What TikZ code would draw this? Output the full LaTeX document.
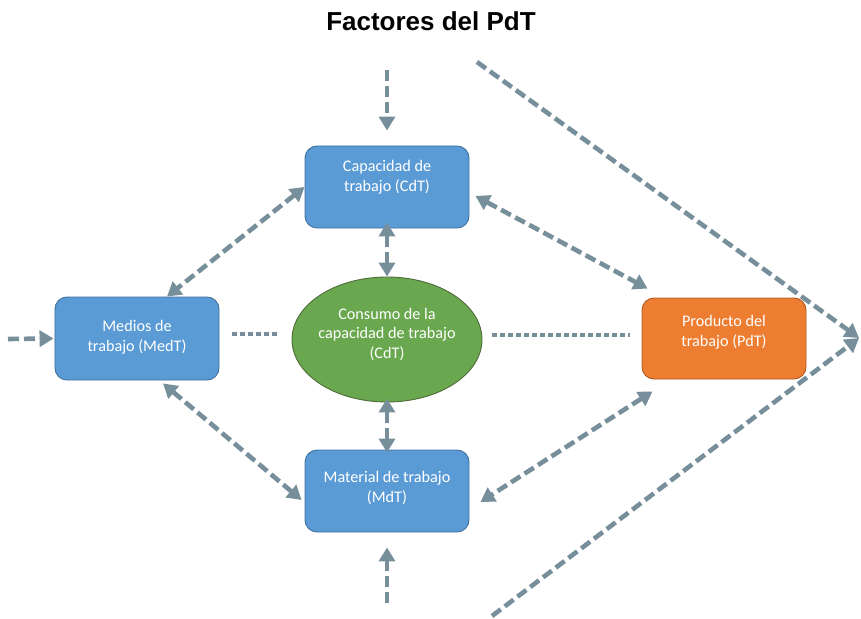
\documentclass[tikz,border=0pt]{standalone}
\usepackage{fontspec}
\setmainfont{Carlito}
\newfontfamily\titlefont{Liberation Sans}
\usetikzlibrary{arrows.meta,calc,shapes.geometric}
\definecolor{boxblue}{HTML}{5B9BD5}
\definecolor{boxblueline}{HTML}{41719C}
\definecolor{boxorange}{HTML}{ED7D31}
\definecolor{boxorangeline}{HTML}{AE5A21}
\definecolor{ellgreen}{HTML}{6AA84F}
\definecolor{ellline}{HTML}{4E6B3A}
\definecolor{arrowgray}{HTML}{778F9B}
\begin{document}
\begin{tikzpicture}[x=1bp,y=-1bp,
  bluebox/.style={draw=boxblueline, fill=boxblue, rounded corners=12bp, minimum width=164bp, minimum height=82bp, inner sep=0pt, line width=0.9bp},
  orangebox/.style={bluebox, draw=boxorangeline, fill=boxorange},
  lbl/.style={text=white, align=center, font=\fontsize{16.2bp}{19.5bp}\selectfont, inner sep=0pt},
  conn/.style={draw=arrowgray, line width=4.6bp, dash pattern=on 11bp off 5bp, -{Triangle[length=14bp,width=16bp]}},
  bidir/.style={conn, {Triangle[length=14bp,width=16bp]}-{Triangle[length=14bp,width=16bp]}},
  dotline/.style={draw=arrowgray, line width=4.2bp, dash pattern=on 4.2bp off 3.8bp},
]
\useasboundingbox[fill=white] (0,0) rectangle (861,619);

\node[font=\titlefont\fontsize{26bp}{30bp}\selectfont\bfseries] (title) at (431,21) {Factores del PdT};

\node[bluebox] (cap) at (387,187) {};
\node[bluebox, minimum height=83bp] (med) at (137,338.5) {};
\node[orangebox, minimum height=81bp] (prod) at (724,338.5) {};
\node[bluebox] (mat) at (387,491) {};
\node[ellipse, draw=ellline, fill=ellgreen, minimum width=190bp, minimum height=125bp, inner sep=0pt, line width=0.9bp] (ell) at (387,339.5) {};

\node[lbl] (capT) at (387,177.5) {Capacidad de\\trabajo (CdT)};
\node[lbl] (medT) at (137,337.5) {Medios de\\trabajo (MedT)};
\node[lbl] (prodT) at (724,332.5) {Producto del\\trabajo (PdT)};
\node[lbl] (matT) at (387,488) {Material de trabajo\\(MdT)};
\node[lbl] (ellT) at (387,334) {Consumo de la\\capacidad de trabajo\\(CdT)};

\coordinate (topin) at (387,70);
\coordinate (botin) at (387,603);
\coordinate (leftin) at (8,339);
\coordinate (chevtop) at (477,62);
\coordinate (chevtip) at (859,338);
\coordinate (chevbot) at (492,616);

\draw[conn, shorten >=15bp] (topin) -- (cap.north);
\draw[conn, shorten >=15bp] (botin) -- (mat.south);
\draw[conn, shorten >=1bp] (leftin) -- (med.west);
\draw[conn] (chevtop) -- (chevtip);
\draw[conn] (chevbot) -- (chevtip);

\draw[bidir] (cap.west) -- ($(med.north)+(30,0)$);
\draw[bidir] ($(cap.east)+(6,9)$) -- ($(prod.north west)+(6,-9)$);
\draw[bidir] ($(med.south)+(26,3)$) -- ($(mat.west)+(-3,9)$);
\draw[bidir] ($(prod.south west)+(11,12)$) -- ($(mat.east)+(11,11)$);
\draw[bidir] ($(cap.south)+(0,-6)$) -- (ell.north);
\draw[bidir] ($(ell.south)+(0,-4)$) -- ($(mat.north)+(0,3)$);

\draw[dotline] ($(med.east)+(13,-4.5)$) -- ($(ell.west)+(-15,-5.5)$);
\draw[dotline] ($(ell.east)+(10,-4.5)$) -- ($(prod.west)+(-12,-3.5)$);
\end{tikzpicture}
\end{document}
